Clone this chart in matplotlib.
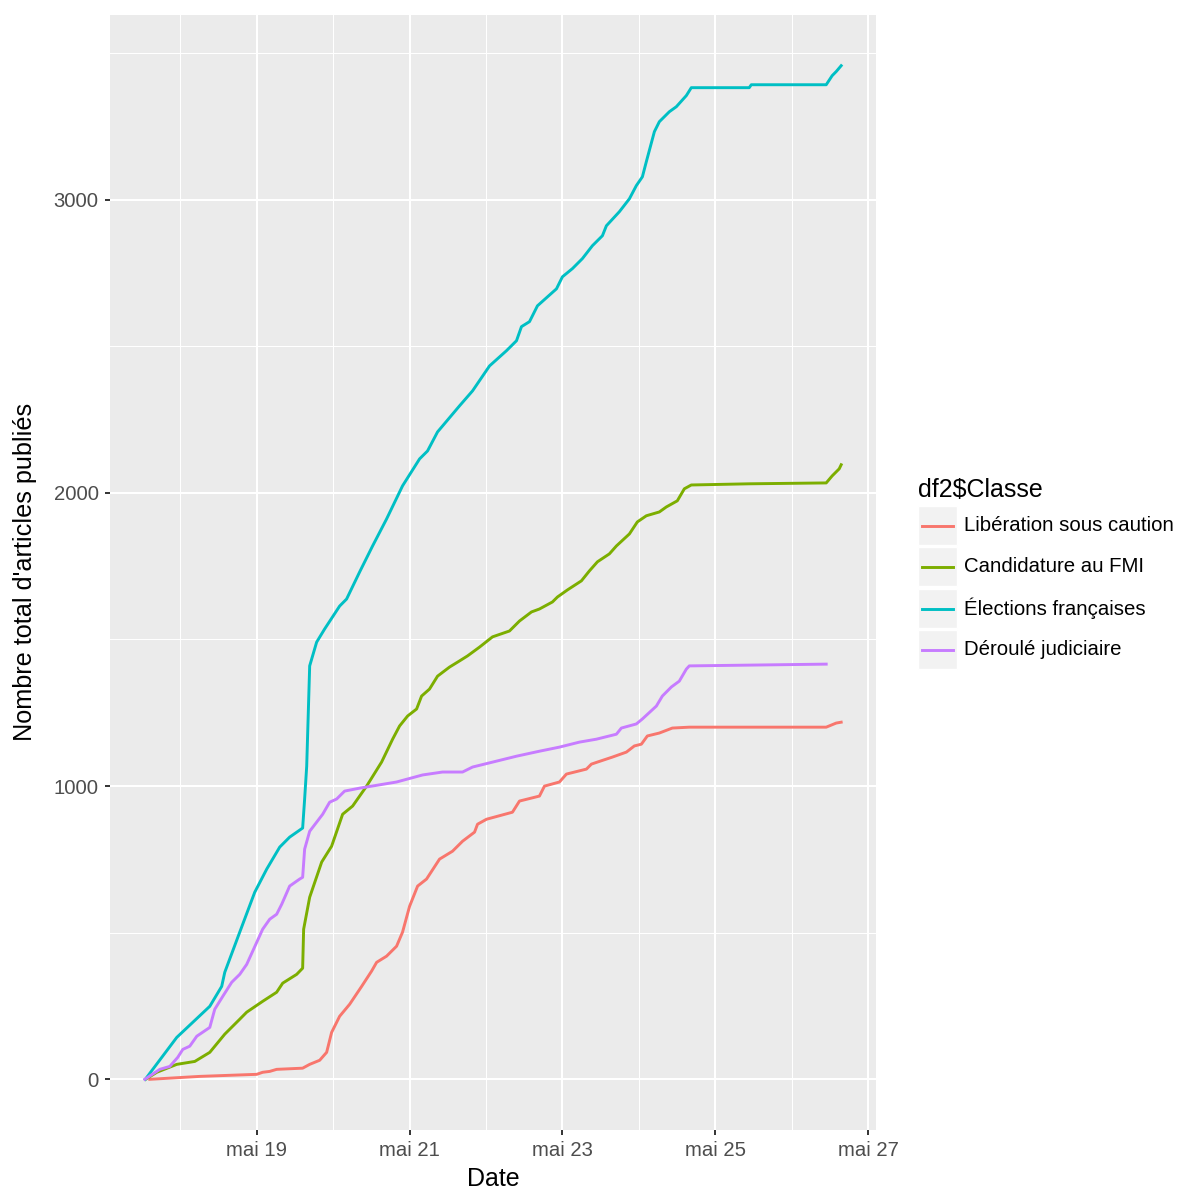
import numpy as np
import pandas as pd
import matplotlib
matplotlib.use("Agg")
import matplotlib.pyplot as plt
import matplotlib.dates as mdates
from matplotlib.ticker import MultipleLocator
from matplotlib.patches import Rectangle
from matplotlib.lines import Line2D

plt.rcParams['font.family'] = ['Liberation Sans', 'DejaVu Sans']

classes = ["Libération sous caution", "Candidature au FMI",
           "Élections françaises", "Déroulé judiciaire"]
colors = ["#F8766D", "#7CAE00", "#00BFC4", "#C77CFF"]

# Time as fractional day of May 2011, value = cumulative number of articles
liberation_day = [17.601, 18.255, 19.000, 19.078, 19.170, 19.261, 19.601, 19.693,
                  19.824, 19.915, 19.980, 20.085, 20.216, 20.373, 20.503, 20.569,
                  20.699, 20.830, 20.908, 21.000, 21.105, 21.222, 21.392, 21.562,
                  21.693, 21.850, 21.889, 22.007, 22.346, 22.438, 22.699, 22.765,
                  22.961, 23.052, 23.314, 23.379, 23.458, 23.654, 23.837, 23.941,
                  24.033, 24.111, 24.268, 24.438, 24.660, 26.451, 26.582, 26.647]
liberation_count = [0, 10, 17, 24, 27, 34, 38, 51,
                    65, 92, 160, 215, 256, 317, 369, 399,
                    420, 454, 502, 590, 659, 683, 751, 778,
                    812, 843, 870, 887, 911, 949, 966, 1000,
                    1014, 1041, 1058, 1075, 1082, 1099, 1116, 1137,
                    1143, 1171, 1181, 1198, 1201, 1201, 1215, 1218]

fmi_day = [17.545, 17.693, 17.954, 18.190, 18.386, 18.582, 18.778, 18.869,
           19.078, 19.261, 19.340, 19.523, 19.601, 19.614, 19.693, 19.850,
           19.980, 20.124, 20.255, 20.438, 20.634, 20.778, 20.869, 20.974,
           21.092, 21.157, 21.261, 21.366, 21.523, 21.654, 21.758, 21.915,
           22.085, 22.307, 22.438, 22.595, 22.699, 22.869, 22.935, 23.065,
           23.248, 23.353, 23.458, 23.614, 23.706, 23.876, 23.980, 24.098,
           24.268, 24.359, 24.503, 24.595, 24.686, 25.444, 26.451, 26.529,
           26.621, 26.647]
fmi_count = [0, 24, 51, 61, 92, 154, 205, 229,
             266, 297, 328, 358, 379, 512, 621, 741,
             795, 904, 932, 1000, 1082, 1160, 1205, 1239,
             1263, 1307, 1331, 1375, 1406, 1427, 1444, 1474,
             1509, 1529, 1563, 1594, 1604, 1628, 1645, 1669,
             1700, 1734, 1765, 1792, 1819, 1860, 1901, 1922,
             1935, 1952, 1973, 2014, 2027, 2031, 2034, 2058,
             2082, 2096]

elections_day = [17.542, 17.954, 18.386, 18.542, 18.582, 18.778, 18.974, 19.131,
                 19.301, 19.431, 19.601, 19.627, 19.654, 19.693, 19.784, 19.889,
                 20.085, 20.176, 20.346, 20.516, 20.699, 20.908, 21.131, 21.235,
                 21.366, 21.654, 21.824, 22.046, 22.268, 22.399, 22.464, 22.569,
                 22.673, 22.922, 23.000, 23.131, 23.261, 23.392, 23.523, 23.575,
                 23.745, 23.876, 23.967, 24.046, 24.098, 24.203, 24.268, 24.399,
                 24.490, 24.621, 24.686, 25.444, 25.471, 26.451, 26.529, 26.582,
                 26.647]
elections_count = [0, 143, 249, 317, 365, 502, 638, 717,
                   792, 826, 857, 956, 1068, 1410, 1491, 1536,
                   1614, 1638, 1730, 1819, 1911, 2024, 2116, 2143,
                   2208, 2297, 2348, 2433, 2485, 2519, 2567, 2584,
                   2638, 2696, 2737, 2765, 2799, 2843, 2877, 2911,
                   2959, 3003, 3048, 3078, 3130, 3232, 3266, 3300,
                   3317, 3355, 3382, 3382, 3392, 3392, 3423, 3437,
                   3457]

judiciaire_day = [17.536, 17.732, 17.863, 17.967, 18.033, 18.124, 18.216, 18.386,
                  18.451, 18.556, 18.673, 18.778, 18.869, 19.078, 19.170, 19.261,
                  19.327, 19.431, 19.562, 19.601, 19.627, 19.693, 19.863, 19.954,
                  20.046, 20.150, 20.346, 20.830, 21.170, 21.431, 21.693, 21.824,
                  22.399, 22.699, 22.961, 23.222, 23.444, 23.706, 23.771, 23.967,
                  24.046, 24.229, 24.307, 24.425, 24.529, 24.621, 24.660, 26.451]
judiciaire_count = [0, 34, 44, 75, 102, 113, 147, 177,
                    239, 283, 331, 358, 392, 512, 546, 563,
                    597, 659, 683, 689, 785, 846, 904, 945,
                    956, 983, 993, 1014, 1038, 1048, 1048, 1065,
                    1102, 1119, 1133, 1150, 1160, 1177, 1198, 1212,
                    1229, 1273, 1307, 1338, 1358, 1399, 1410, 1416]

series_days = [liberation_day, fmi_day, elections_day, judiciaire_day]
series_counts = [liberation_count, fmi_count, elections_count, judiciaire_count]

W, H = 1179, 1189
fig = plt.figure(figsize=(W / 100, H / 100), dpi=100)
fig.patch.set_facecolor("white")

# panel in pixel coordinates
left, right, top, bottom = 110, 876, 15, 1130
ax = fig.add_axes([left / W, 1 - bottom / H, (right - left) / W, (bottom - top) / H])
ax.set_facecolor("#EBEBEB")

may1 = pd.Timestamp("2011-05-01")
all_x = []
for days, counts, col in zip(series_days, series_counts, colors):
    t = may1 + pd.to_timedelta(np.asarray(days) - 1, unit="D")
    x = mdates.date2num(t.to_pydatetime())
    all_x.extend(x)
    ax.plot(x, counts, color=col, lw=2.1, solid_joinstyle="round")

# ggplot-like 5% expansion of both scales
all_y = [v for c in series_counts for v in c]
xmin, xmax = min(all_x), max(all_x)
ymin, ymax = min(all_y), max(all_y)
dx, dy = (xmax - xmin) * 0.05, (ymax - ymin) * 0.05
ax.set_xlim(xmin - dx, xmax + dx)
ax.set_ylim(ymin - dy, ymax + dy)

ax.xaxis.set_major_locator(mdates.DayLocator(bymonthday=[19, 21, 23, 25, 27]))
ax.xaxis.set_minor_locator(mdates.DayLocator(bymonthday=[18, 20, 22, 24, 26]))
ax.xaxis.set_major_formatter(mdates.DateFormatter("mai %d"))
ax.yaxis.set_major_locator(MultipleLocator(1000))
ax.yaxis.set_minor_locator(MultipleLocator(500))

ax.set_axisbelow(True)
ax.grid(which="major", color="white", lw=1.5)
ax.grid(which="minor", color="white", lw=0.75)
for s in ax.spines.values():
    s.set_visible(False)
ax.tick_params(which="major", length=3.6, width=1.4, color="#333333",
               labelcolor="#4D4D4D", labelsize=14.6, pad=4.5)
ax.tick_params(which="minor", length=0)

# axis titles
fig.text(493 / W, 1 - 1186 / H, "Date", ha="center", va="baseline",
         fontsize=18, color="black")
fig.text(25 / W, 1 - 572 / H, "Nombre total d'articles publiés", rotation=90,
         ha="center", va="center", fontsize=18.2, color="black")

# legend
fig.text(918 / W, 1 - 497 / H, "df2$Classe", ha="left", va="baseline",
         fontsize=18, color="black")
row_tops = [506, 547, 589, 630]
key_h = 39
for name, col, rt in zip(classes, colors, row_tops):
    fig.add_artist(Rectangle((918 / W, 1 - (rt + key_h) / H), 39 / W, key_h / H,
                             transform=fig.transFigure, facecolor="#F2F2F2",
                             edgecolor="white", lw=1))
    yc = 1 - (rt + key_h / 2) / H
    fig.add_artist(Line2D([922 / W, 953 / W], [yc, yc], transform=fig.transFigure,
                          color=col, lw=2.1))
    fig.text(964 / W, yc, name, ha="left", va="center", fontsize=14.7,
             color="black")

fig.savefig("out.png", dpi=100)
